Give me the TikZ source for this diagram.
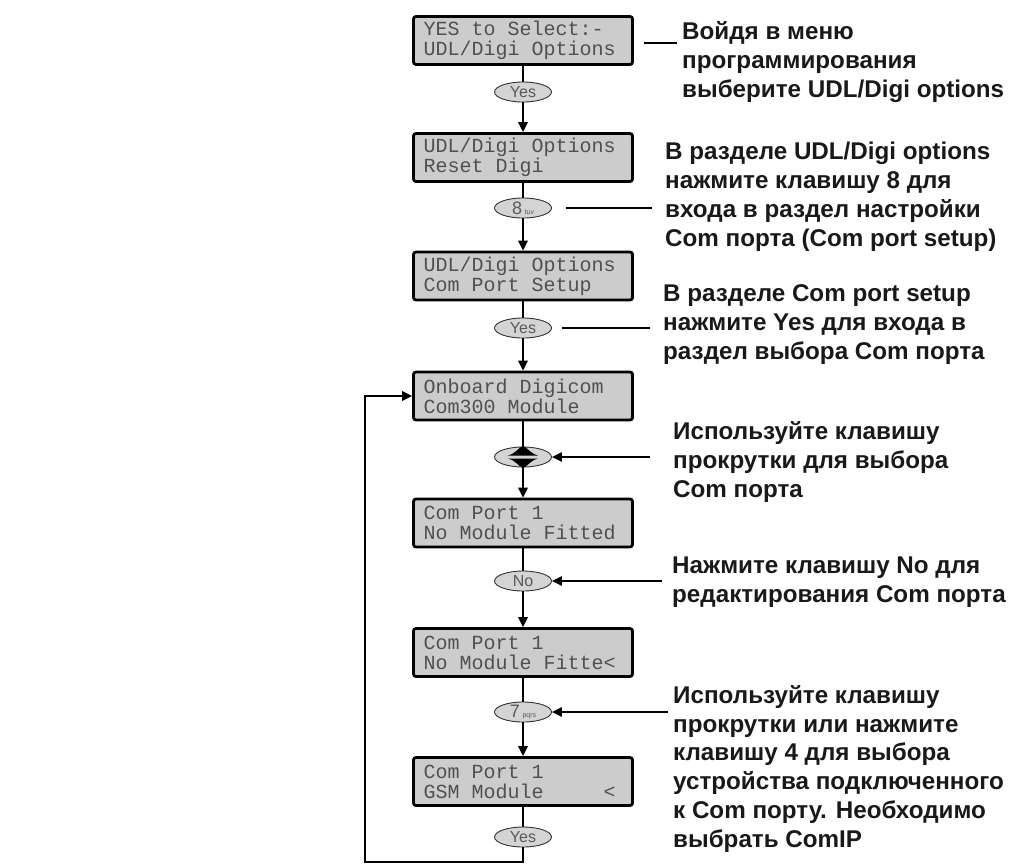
\documentclass[tikz,border=0pt]{standalone}
\usepackage{fontspec}
\setmainfont{Liberation Sans}
\newfontfamily\lcdfont{Liberation Mono}
\newcommand\lsp{\hbox to 12pt{}}
\usetikzlibrary{shapes.geometric,arrows.meta}
\definecolor{lcdfill}{RGB}{204,204,204}
\definecolor{lcdtext}{RGB}{80,80,80}
\definecolor{keyfill}{RGB}{212,212,212}
\definecolor{notetext}{RGB}{25,25,25}
\begin{document}
\begin{tikzpicture}[x=1pt,y=-1pt,
  lcd/.style={draw=black, line width=2.8pt, rounded corners=2.5pt, fill=lcdfill,
    minimum width=219pt, minimum height=48pt, text width=199pt, inner xsep=10pt,
    inner ysep=0pt, align=left, font=\lcdfont\fontsize{20}{20}\selectfont, text=lcdtext},
  key/.style={ellipse, draw=black!80, line width=0.9pt, fill=keyfill,
    minimum width=57pt, minimum height=20pt, inner sep=0pt,
    font=\fontsize{16}{16}\selectfont, text=black!65},
  flow/.style={line width=2pt},
  arr/.style={-{Triangle[length=10pt,width=9.5pt]}},
  lead/.style={line width=1.3pt},
  note/.style={anchor=base west, align=left, inner sep=0pt,
    font=\bfseries\fontsize{24.2}{28.7}\selectfont, text=notetext}]
\useasboundingbox (0,0) rectangle (1016,865);

% LCD displays
\node[lcd] (b1) at (523,40.5) {YES\lsp to\lsp Select:-\\UDL/Digi\lsp Options};
\node[lcd] (b2) at (523,157.5) {UDL/Digi\lsp Options\\Reset\lsp Digi};
\node[lcd] (b3) at (523,276) {UDL/Digi\lsp Options\\Com\lsp Port\lsp Setup};
\node[lcd] (b4) at (523,396) {Onboard\lsp Digicom\\Com300\lsp Module};
\node[lcd] (b5) at (523,523) {Com\lsp Port\lsp 1\\No\lsp Module\lsp Fitted};
\node[lcd] (b6) at (523,652.5) {Com\lsp Port\lsp 1\\No\lsp Module\lsp Fitte<};
\node[lcd] (b7) at (523,781.5) {Com\lsp Port\lsp 1\\GSM\lsp Module\lsp\lsp\lsp\lsp\lsp <};

% keys
\node[key] (e1) at (523,92) {Yes};
\node[key] (e2) at (523,208) {{\fontsize{18}{18}\selectfont 8}\,{\fontsize{7}{7}\selectfont tuv}};
\node[key] (e3) at (523,328) {Yes};
\node[key] (e4) at (523,457) {};
\node[key] (e5) at (523,581) {No};
\node[key] (e6) at (523,712) {{\fontsize{18}{18}\selectfont 7}\,{\fontsize{7}{7}\selectfont pqrs}};
\node[key] (e7) at (523,837) {Yes};

% scroll symbol
\begin{scope}[shift={(e4.center)}]
  \fill (-15,-1.5) .. controls (-7,-3.5) and (-4,-10) .. (0,-11)
    .. controls (4,-10) and (7,-3.5) .. (15,-1.5) -- cycle;
  \fill (-15,1.5) .. controls (-7,3.5) and (-4,10) .. (0,11)
    .. controls (4,10) and (7,3.5) .. (15,1.5) -- cycle;
\end{scope}

% main flow
\draw[flow] (b1) -- (e1);
\draw[flow,arr] (e1) -- (b2);
\draw[flow] (b2) -- (e2);
\draw[flow,arr] (e2) -- (b3);
\draw[flow] (b3) -- (e3);
\draw[flow,arr] (e3) -- (b4);
\draw[flow] (b4) -- (e4);
\draw[flow,arr] (e4) -- (b5);
\draw[flow] (b5) -- (e5);
\draw[flow,arr] (e5) -- (b6);
\draw[flow] (b6) -- (e6);
\draw[flow,arr] (e6) -- (b7);
\draw[flow] (b7) -- (e7);
\coordinate (f1) at (523,862);
\coordinate (f2) at (365,862);
\draw[flow,arr] (e7) -- (f1) -- (f2) |- (b4.west);

% notes (anchored at the baseline of the last line)
\node[note] (t1) at (682,97) {Войдя в меню\\программирования\\выберите UDL/Digi options};
\node[note] (t2) at (665,246) {В разделе UDL/Digi options\\нажмите клавишу 8 для\\входа в раздел настройки\\Com порта (Com port setup)};
\node[note] (t3) at (663,359) {В разделе Com port setup\\нажмите Yes для входа в\\раздел выбора Com порта};
\node[note] (t4) at (673,497) {Используйте клавишу\\прокрутки для выбора\\Com порта};
\node[note] (t5) at (672,602) {Нажмите клавишу No для\\редактирования Com порта};
\node[note] (t6) at (673,847) {Используйте клавишу\\прокрутки  или нажмите\\клавишу 4 для выбора\\устройства подключенного\\к Com порту. Необходимо\\выбрать ComIP};

% leader lines
\coordinate (c1) at (677,43);
\coordinate (c2) at (652,208);
\coordinate (c3) at (650,328);
\coordinate (c4) at (650,457);
\coordinate (c5) at (662,581);
\coordinate (c6) at (668,712);
\draw[lead,shorten <=10pt] (b1.east|-c1) -- (c1);
\draw[lead,shorten <=14pt] (e2.east) -- (c2);
\draw[lead,shorten <=10pt] (e3.east) -- (c3);
\draw[lead,arr] (c4) -- (e4.east);
\draw[lead,arr] (c5) -- (e5.east);
\draw[lead,arr] (c6) -- (e6.east);
\end{tikzpicture}
\end{document}
